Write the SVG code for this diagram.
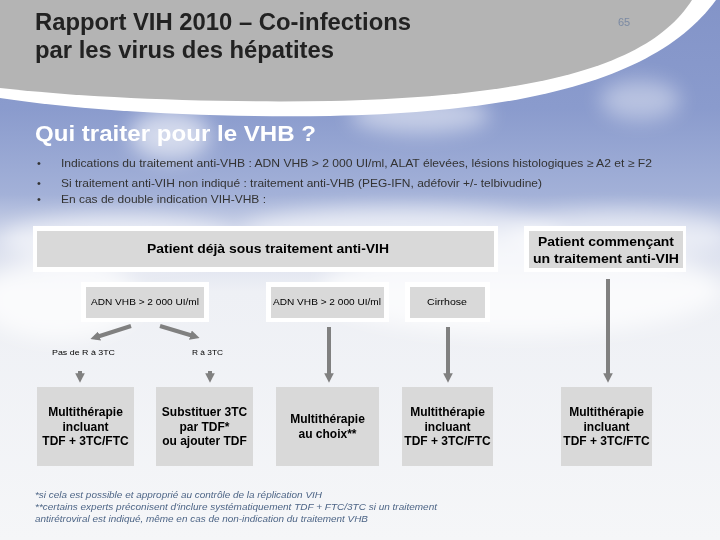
<svg xmlns="http://www.w3.org/2000/svg" width="720" height="540" viewBox="0 0 720 540">
<defs>
<linearGradient id="sky" x1="0" y1="0" x2="0" y2="540" gradientUnits="userSpaceOnUse">
<stop offset="0" stop-color="#8394c8"/>
<stop offset="0.2" stop-color="#8a9bcd"/>
<stop offset="0.36" stop-color="#a3b1d8"/>
<stop offset="0.44" stop-color="#d3d9eb"/>
<stop offset="0.54" stop-color="#eef0f5"/>
<stop offset="1" stop-color="#f5f6f8"/>
</linearGradient>
<filter id="blur" x="-50%" y="-50%" width="200%" height="200%"><feGaussianBlur stdDeviation="10"/></filter>
<marker id="ah" viewBox="0 0 10 10" refX="5" refY="5" markerWidth="2.4" markerHeight="2.4" orient="auto">
<path d="M0,0 L10,5 L0,10 Z" fill="#808080"/>
</marker>
<style>
.t{font-family:"Liberation Sans",Arial,sans-serif}
.box{fill:#d9d9d9}
.wb{fill:#ffffff}
.bt{font-family:"Liberation Sans",Arial,sans-serif;font-weight:bold;font-size:12px;fill:#000;text-anchor:middle}
.st{font-family:"Liberation Sans",Arial,sans-serif;font-size:9px;fill:#000;text-anchor:middle}
.lb{font-family:"Liberation Sans",Arial,sans-serif;font-size:8px;fill:#000}
.bl{font-family:"Liberation Sans",Arial,sans-serif;font-size:11px;fill:#333}
.fn{font-family:"Liberation Sans",Arial,sans-serif;font-size:9px;font-style:italic;fill:#4d6586}
.ar{stroke:#808080;stroke-width:4;fill:none;marker-end:url(#ah)}
</style>
</defs>
<g id="background">
<rect x="0" y="0" width="720" height="540" fill="url(#sky)"/>
<g filter="url(#blur)" fill="#ffffff">
<ellipse cx="170" cy="135" rx="40" ry="25" opacity="0.6"/>
<ellipse cx="420" cy="115" rx="70" ry="18" opacity="0.5"/>
<ellipse cx="640" cy="100" rx="40" ry="20" opacity="0.4"/>
<ellipse cx="120" cy="240" rx="120" ry="25" opacity="0.6"/>
<ellipse cx="400" cy="232" rx="160" ry="25" opacity="0.6"/>
<ellipse cx="620" cy="235" rx="110" ry="25" opacity="0.5"/>
<ellipse cx="60" cy="300" rx="80" ry="40" opacity="0.7"/>
<ellipse cx="520" cy="290" rx="200" ry="45" opacity="0.7"/>
</g>
<path d="M0,0 H716 C665,70 550,112 330,116 C200,118 80,110 0,98 Z" fill="#ffffff"/>
<path d="M0,0 H692 C655,58 560,96 330,101 C200,103 80,97 0,88 Z" fill="#b4b4b4"/>
</g>
<g id="title">
<text class="t" x="35" y="30" font-size="23" font-weight="bold" fill="#222222" textLength="376" lengthAdjust="spacingAndGlyphs">Rapport VIH 2010 – Co-infections</text>
<text class="t" x="35" y="58" font-size="23" font-weight="bold" fill="#222222" textLength="299" lengthAdjust="spacingAndGlyphs">par les virus des hépatites</text>
<text class="t" x="618" y="26" font-size="11" fill="#7b8aa3">65</text>
</g>
<g id="heading">
<text class="t" x="35" y="141" font-size="22" font-weight="bold" fill="#ffffff" textLength="281" lengthAdjust="spacingAndGlyphs">Qui traiter pour le VHB ?</text>
<text class="bl" x="37" y="167">•</text>
<text class="bl" x="37" y="187">•</text>
<text class="bl" x="37" y="203">•</text>
<text class="bl" x="61" y="167" textLength="591" lengthAdjust="spacingAndGlyphs">Indications du traitement anti-VHB : ADN VHB &gt; 2 000 UI/ml,  ALAT élevées, lésions histologiques ≥ A2 et ≥ F2</text>
<text class="bl" x="61" y="187" textLength="481" lengthAdjust="spacingAndGlyphs">Si traitement anti-VIH non indiqué : traitement anti-VHB (PEG-IFN, adéfovir +/- telbivudine)</text>
<text class="bl" x="61" y="203" textLength="205" lengthAdjust="spacingAndGlyphs">En cas de double indication VIH-VHB :</text>
</g>
<g id="connectors">
<line class="ar" x1="131" y1="326" x2="95" y2="337.5"/>
<line class="ar" x1="160" y1="326" x2="195" y2="336.5"/>
<line class="ar" x1="80" y1="371" x2="80" y2="378"/>
<line class="ar" x1="210" y1="371" x2="210" y2="378"/>
<line class="ar" x1="329" y1="327" x2="329" y2="378"/>
<line class="ar" x1="448" y1="327" x2="448" y2="378"/>
<line class="ar" x1="608" y1="279" x2="608" y2="378"/>
</g>
<g id="n-deja">
<rect class="wb" x="33" y="226" width="465" height="46"/>
<rect class="box" x="37" y="231" width="457" height="36"/>
<text class="bt" x="268" y="253" font-size="13" textLength="242" lengthAdjust="spacingAndGlyphs">Patient déjà sous traitement anti-VIH</text>
</g>
<g id="n-commencant">
<rect class="wb" x="524" y="226" width="162" height="46"/>
<rect class="box" x="529" y="231" width="154" height="37"/>
<text class="bt" x="606" y="246" font-size="13" textLength="136" lengthAdjust="spacingAndGlyphs">Patient commençant</text>
<text class="bt" x="606" y="263" font-size="13" textLength="146" lengthAdjust="spacingAndGlyphs">un traitement anti-VIH</text>
</g>
<g id="n-adn1">
<rect class="wb" x="81" y="282" width="128" height="40"/>
<rect class="box" x="86" y="287" width="118" height="31"/>
<text class="st" x="145" y="305" textLength="108" lengthAdjust="spacingAndGlyphs">ADN VHB &gt; 2 000 UI/ml</text>
</g>
<g id="n-adn2">
<rect class="wb" x="266" y="282" width="123" height="40"/>
<rect class="box" x="271" y="287" width="113" height="31"/>
<text class="st" x="327" y="305" textLength="108" lengthAdjust="spacingAndGlyphs">ADN VHB &gt; 2 000 UI/ml</text>
</g>
<g id="n-cirrhose">
<rect class="wb" x="405" y="282" width="85" height="40"/>
<rect class="box" x="410" y="287" width="75" height="31"/>
<text class="st" x="447" y="305" font-size="10" textLength="40" lengthAdjust="spacingAndGlyphs">Cirrhose</text>
</g>
<g id="l-pasder">
<text class="lb" x="52" y="355" textLength="63" lengthAdjust="spacingAndGlyphs">Pas de R à 3TC</text>
</g>
<g id="l-r3tc">
<text class="lb" x="192" y="355" textLength="31" lengthAdjust="spacingAndGlyphs">R à 3TC</text>
</g>
<g id="n-b1">
<rect class="box" x="37" y="387" width="97" height="79"/>
<text class="bt" x="85.5" y="416">Multithérapie</text>
<text class="bt" x="85.5" y="431">incluant</text>
<text class="bt" x="85.5" y="445">TDF + 3TC/FTC</text>
</g>
<g id="n-b2">
<rect class="box" x="156" y="387" width="97" height="79"/>
<text class="bt" x="204.5" y="416">Substituer 3TC</text>
<text class="bt" x="204.5" y="431">par TDF*</text>
<text class="bt" x="204.5" y="445">ou ajouter TDF</text>
</g>
<g id="n-b3">
<rect class="box" x="276" y="387" width="103" height="79"/>
<text class="bt" x="327.5" y="423">Multithérapie</text>
<text class="bt" x="327.5" y="438">au choix**</text>
</g>
<g id="n-b4">
<rect class="box" x="402" y="387" width="91" height="79"/>
<text class="bt" x="447.5" y="416">Multithérapie</text>
<text class="bt" x="447.5" y="431">incluant</text>
<text class="bt" x="447.5" y="445">TDF + 3TC/FTC</text>
</g>
<g id="n-b5">
<rect class="box" x="561" y="387" width="91" height="79"/>
<text class="bt" x="606.5" y="416">Multithérapie</text>
<text class="bt" x="606.5" y="431">incluant</text>
<text class="bt" x="606.5" y="445">TDF + 3TC/FTC</text>
</g>
<g id="footnotes">
<text class="fn" x="35" y="498" textLength="287" lengthAdjust="spacingAndGlyphs">*si cela est possible et approprié au contrôle de la réplication VIH</text>
<text class="fn" x="35" y="510" textLength="402" lengthAdjust="spacingAndGlyphs">**certains experts préconisent d'inclure systématiquement TDF + FTC/3TC si un traitement</text>
<text class="fn" x="35" y="522" textLength="333" lengthAdjust="spacingAndGlyphs">antirétroviral est indiqué, même en cas de non-indication du traitement VHB</text>
</g>
</svg>
